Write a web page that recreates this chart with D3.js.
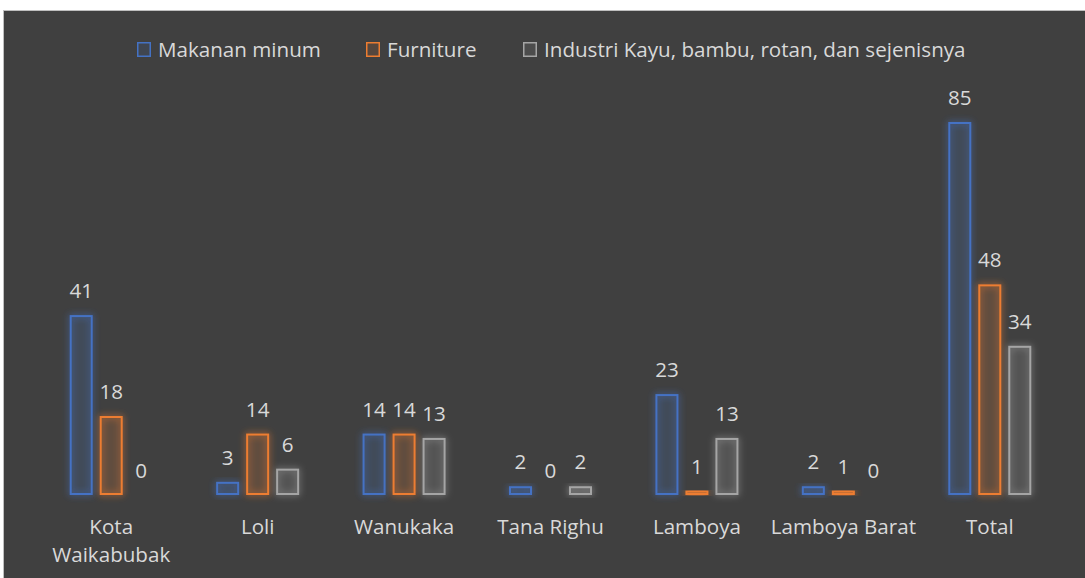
<!DOCTYPE html>
<html>
<head>
<meta charset="utf-8">
<script src="https://cdn.jsdelivr.net/npm/d3@7"></script>
<style>
  body { margin: 0; background: #ffffff; }
  text { font-family: "Open Sans", Lato, sans-serif; }
</style>
</head>
<body>
<div id="chart"></div>
<script>
var categories = ["Kota Waikabubak", "Loli", "Wanukaka", "Tana Righu", "Lamboya", "Lamboya Barat", "Total"];
var seriesNames = ["Makanan minum", "Furniture", "Industri Kayu, bambu, rotan, dan sejenisnya"];
var makananMinum = [41, 3, 14, 2, 23, 2, 85];
var furniture = [18, 14, 14, 0, 1, 1, 48];
var industriKayu = [0, 6, 13, 2, 13, 0, 34];
var colors = ["#4472C4", "#ED7D31", "#A5A5A5"];

var seriesValues = [makananMinum, furniture, industriKayu];

var width = 1085, height = 578;
var baseline = 495;
var fontSize = "20.6px";

var svg = d3.select("#chart").append("svg")
    .attr("width", width)
    .attr("height", height);

// glow filters
var defs = svg.append("defs");
colors.forEach(function(c, i){
    var f = defs.append("filter").attr("id", "glow" + i)
        .attr("x", "-50%").attr("y", "-50%").attr("width", "200%").attr("height", "200%");
    f.append("feGaussianBlur").attr("in", "SourceGraphic").attr("stdDeviation", 3.5).attr("result", "blur");
    var m = f.append("feMerge");
    m.append("feMergeNode").attr("in", "blur");
    m.append("feMergeNode").attr("in", "SourceGraphic");
});

svg.append("rect")
    .attr("x", 3.5).attr("y", 10.5)
    .attr("width", 1100).attr("height", 600)
    .attr("fill", "#404040")
    .attr("stroke", "#bfbfbf")
    .attr("stroke-width", 1);

var x0 = d3.scaleBand()
    .domain(categories)
    .range([38, 1063])
    .padding(0);

var x1 = d3.scaleBand()
    .domain(seriesNames)
    .range([-41.5, 41.5])
    .paddingInner(0.2333)
    .paddingOuter(0);

var y = d3.scaleLinear()
    .domain([0, 85])
    .range([baseline, 122]);

var data = [];
categories.forEach(function(cat, ci){
    seriesNames.forEach(function(s, si){
        data.push({cat: cat, series: s, si: si, value: seriesValues[si][ci]});
    });
});

var groups = svg.append("g");

groups.selectAll("rect.bar")
    .data(data.filter(function(d){ return d.value > 0; }))
    .enter()
    .append("rect")
    .attr("class", "bar")
    .attr("x", function(d){ return x0(d.cat) + x0.bandwidth() / 2 + x1(d.series) + 1; })
    .attr("y", function(d){ return y(d.value) + 1; })
    .attr("width", x1.bandwidth() - 2)
    .attr("height", function(d){ return Math.max(baseline - y(d.value) - 2, 1); })
    .attr("fill", function(d){ return colors[d.si]; })
    .attr("fill-opacity", 0.1)
    .attr("stroke", function(d){ return colors[d.si]; })
    .attr("stroke-width", 2)
    .attr("filter", function(d){ return "url(#glow" + d.si + ")"; });

groups.selectAll("text.val")
    .data(data)
    .enter()
    .append("text")
    .attr("class", "val")
    .attr("x", function(d){ return x0(d.cat) + x0.bandwidth() / 2 + x1(d.series) + x1.bandwidth() / 2; })
    .attr("y", function(d){ return y(d.value) - 17; })
    .attr("text-anchor", "middle")
    .attr("fill", "#d9d9d9")
    .style("font-size", fontSize)
    .text(function(d){ return d.value; });

// x axis labels
var xAxis = svg.append("g")
    .attr("transform", "translate(0," + baseline + ")")
    .call(d3.axisBottom(x0).tickSize(0).tickPadding(0));
xAxis.select(".domain").remove();
xAxis.selectAll(".tick text").remove();
xAxis.selectAll(".tick").each(function(d){
    var t = d3.select(this).append("text")
        .attr("text-anchor", "middle")
        .attr("fill", "#d9d9d9")
        .style("font-size", fontSize);
    var lines = d === "Kota Waikabubak" ? ["Kota", "Waikabubak"] : [d];
    lines.forEach(function(l, i){
        t.append("tspan").attr("x", 0).attr("y", 39 + i * 28).text(l);
    });
});

// legend
var legendX = [137, 366, 523];
var legend = svg.append("g");
seriesNames.forEach(function(s, i){
    var g = legend.append("g").attr("transform", "translate(" + legendX[i] + ",42)");
    g.append("rect")
        .attr("x", 0.75).attr("y", 0.75)
        .attr("width", 12.5).attr("height", 13.5)
        .attr("fill", colors[i]).attr("fill-opacity", 0.12)
        .attr("stroke", colors[i]).attr("stroke-width", 1.5);
    g.append("text")
        .attr("x", 21).attr("y", 14.5)
        .attr("fill", "#d9d9d9")
        .style("font-size", fontSize)
        .text(s);
});
</script>
</body>
</html>
